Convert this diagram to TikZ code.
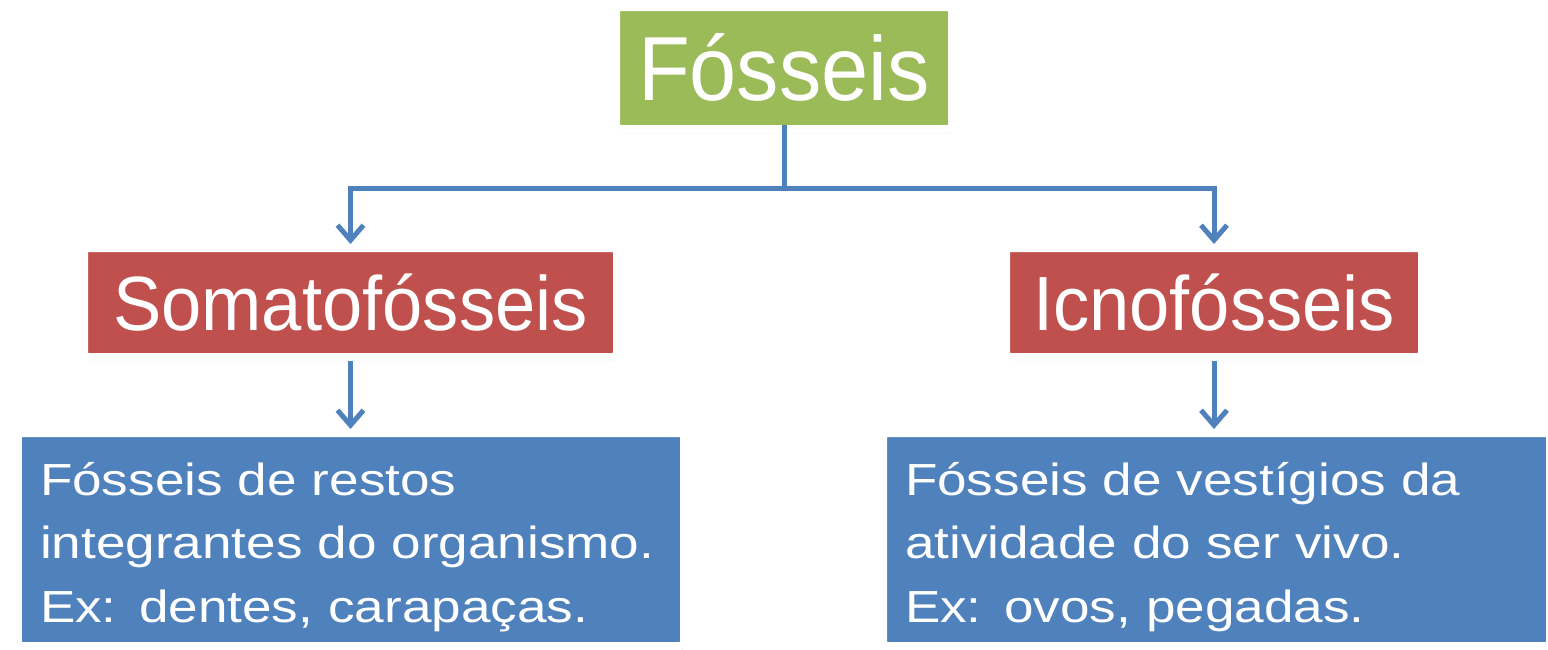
\documentclass[tikz,border=0pt]{standalone}
\usepackage{fontspec}
\setmainfont{Liberation Sans}
\newfontfamily\topfont[FakeStretch=0.93]{Liberation Sans}
\newfontfamily\kindfont[FakeStretch=0.94]{Liberation Sans}
\newfontfamily\notefont[FakeStretch=1.18]{Liberation Sans}
\usepackage{tikz}
\usetikzlibrary{calc}
\usetikzlibrary{arrows.meta}
\usetikzlibrary{shadows}
\usetikzlibrary{positioning}
\definecolor{fosgreen}{HTML}{9BBB59}
\definecolor{fosred}{HTML}{C0504D}
\definecolor{fosblue}{HTML}{4F81BD}
\tikzset{card/.style={rectangle,draw=white,line width=0.08cm,rounded corners=0.04cm,text=white,drop shadow={opacity=0.35,shadow xshift=0.01cm,shadow yshift=-0.04cm}}}

\begin{document}
\begin{tikzpicture}
\tikzset{kind/.style={card,fill=fosred,minimum height=1.09cm,text height=0.55cm,text depth=0cm,inner sep=0pt,font=\kindfont\fontsize{21.9}{26}\selectfont}}
\tikzset{note/.style={card,fill=fosblue,minimum height=2.13cm,align=left,inner xsep=0.22cm,inner ysep=0pt,text height=0.32cm,text depth=1.21cm,font=\notefont\fontsize{12.8}{18.2}\selectfont}}
\tikzset{link/.style={draw=fosblue,line width=0.05cm}}
\useasboundingbox (0,0) rectangle (15.48,-6.49);
\node[card, fill=fosgreen, minimum width=3.36cm, minimum height=1.22cm, text height=0.65cm, text depth=0cm, inner sep=0pt, font=\topfont\fontsize{25.9}{30}\selectfont] (fos) at (7.84,-0.68) {Fósseis};
\node[kind, minimum width=5.33cm] (soma) at (3.505,-3.025) {Somatofósseis};
\node[kind, minimum width=4.16cm] (icno) at (12.14,-3.025) {Icnofósseis};
\node[note, text width=6.22cm] (somanote) at (3.51,-5.395) {Fósseis de restos\\integrantes do organismo.\\Ex: dentes, carapaças.};
\node[note, text width=6.23cm] (icnonote) at (12.165,-5.395) {Fósseis de vestígios da\\atividade do ser vivo.\\Ex: ovos, pegadas.};

\coordinate (fork) at ($(fos.south)+(0,-0.55)$);
\begin{scope}[link, -{Straight Barb[length=0.15cm,width=0.26cm]}]
\draw[-, shorten <=-0.08cm] (fos.south) -- (fork);
\draw (fork) -| (soma.north);
\draw (fork) -| (icno.north);
\draw (soma.south) -- (soma.south |- somanote.north);
\draw (icno.south) -- (icno.south |- icnonote.north);
\end{scope}

\end{tikzpicture}
\end{document}
